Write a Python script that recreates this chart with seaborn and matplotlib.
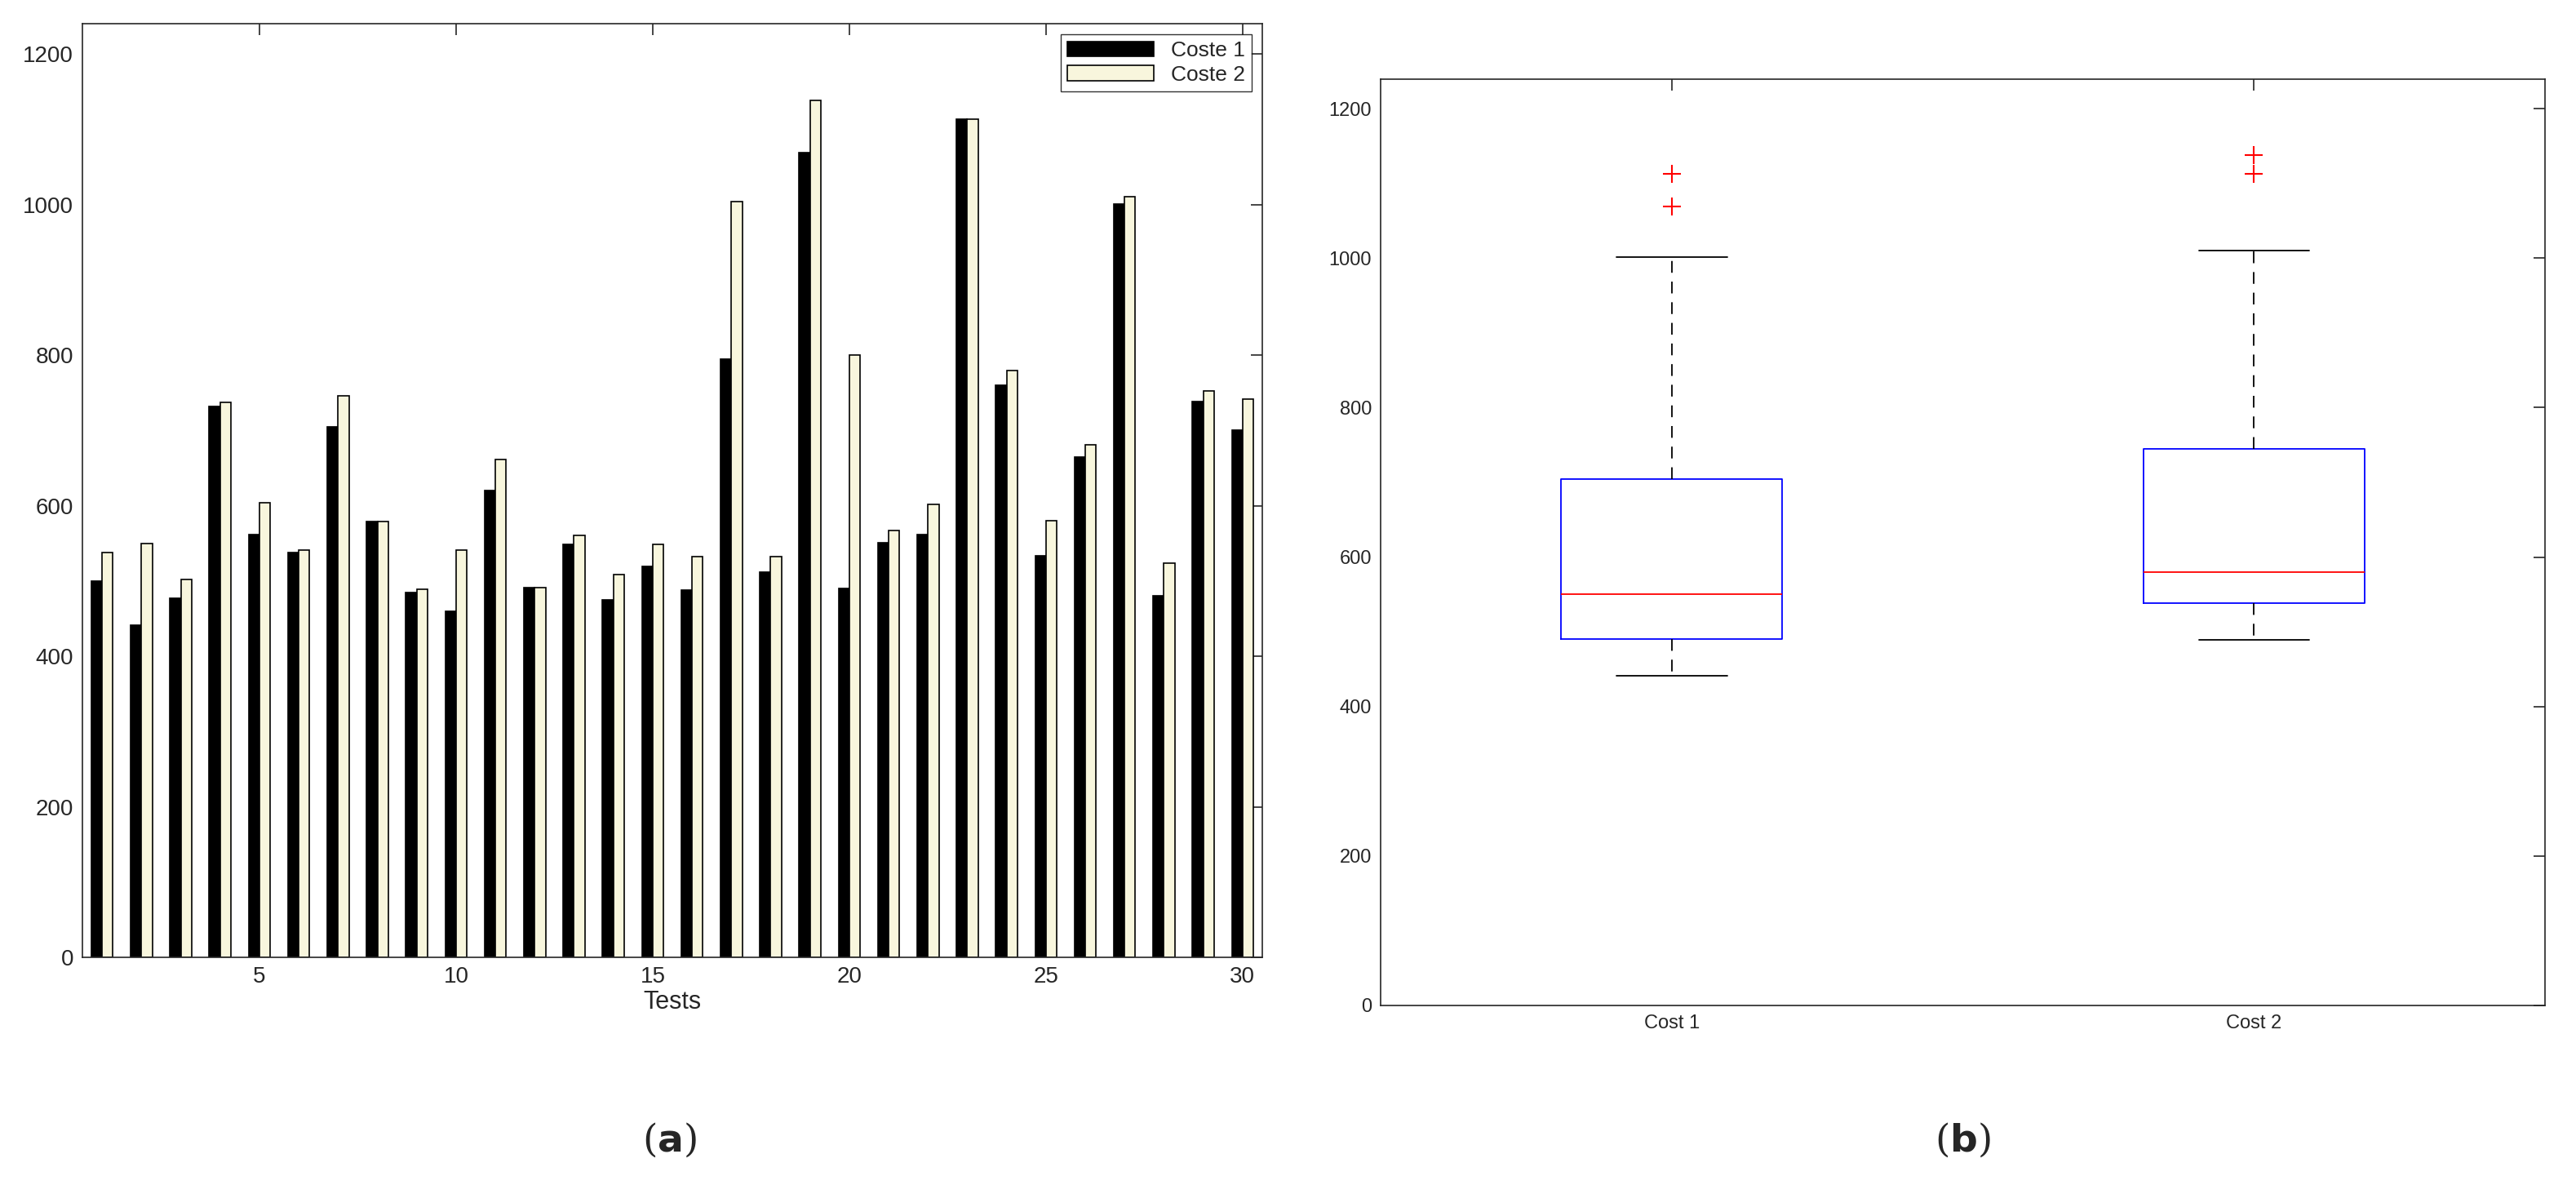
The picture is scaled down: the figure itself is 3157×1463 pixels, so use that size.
import numpy as np
import pandas as pd
import matplotlib
matplotlib.use("Agg")
import matplotlib.pyplot as plt
import seaborn as sns

tests = list(range(1, 31))
coste1 = [500, 441, 477, 732, 562, 538, 705, 579, 485, 460, 620, 491, 549, 475, 520,
          488, 795, 512, 1069, 490, 551, 562, 1113, 760, 534, 665, 1001, 481, 738, 701]
coste2 = [538, 550, 502, 737, 604, 541, 746, 579, 489, 541, 661, 491, 561, 509, 549,
          533, 1004, 533, 1138, 800, 567, 602, 1113, 780, 580, 681, 1010, 524, 753, 742]
series_names = ["Coste 1", "Coste 2"]
box_labels = ["Cost 1", "Cost 2"]

sns.set_theme(style="white")
plt.rcParams['font.family'] = ['Liberation Sans', 'DejaVu Sans']

fig = plt.figure(figsize=(31.57, 14.63), dpi=100)
ax1 = fig.add_axes([0.032, 0.198, 0.458, 0.782])
ax2 = fig.add_axes([0.536, 0.158, 0.452, 0.776])

df = pd.DataFrame({"Test": tests * 2, "Cost": coste1 + coste2,
                   "Serie": [series_names[0]] * 30 + [series_names[1]] * 30})
sns.barplot(data=df, x="Test", y="Cost", hue="Serie", ax=ax1,
            palette=["black", "#FCFAD8"], edgecolor="black", linewidth=1.2,
            width=0.55, gap=0.0, errorbar=None)
ax1.set_xlim(-0.5, 29.5)
ax1.set_ylim(0, 1240)
ax1.set_xticks([4, 9, 14, 19, 24, 29])
ax1.set_xticklabels(["5", "10", "15", "20", "25", "30"])
ax1.set_yticks(range(0, 1201, 200))
ax1.set_xlabel("Tests", fontsize=22, labelpad=2)
ax1.set_ylabel("")
leg = ax1.legend(loc="upper right", fontsize=19, frameon=True, fancybox=False,
                 edgecolor="black", handlelength=4, borderpad=0.3, labelspacing=0.2)
leg.set_title(None)

bdf = pd.DataFrame({"Group": [box_labels[0]] * 30 + [box_labels[1]] * 30,
                    "Cost": coste1 + coste2})
sns.boxplot(data=bdf, x="Group", y="Cost", ax=ax2, fill=False, width=0.38,
            color="blue", linewidth=1.3,
            boxprops=dict(color="blue"),
            medianprops=dict(color="red"),
            whiskerprops=dict(color="black", linestyle=(0, (8, 6))),
            capprops=dict(color="black"),
            flierprops=dict(marker="+", markeredgecolor="red", markersize=16, markeredgewidth=1.5))
ax2.set_xlim(-0.5, 1.5)
ax2.set_ylim(0, 1240)
ax2.set_yticks(range(0, 1201, 200))
ax2.set_xlabel("")
ax2.set_ylabel("")

for ax, fs in [(ax1, 20), (ax2, 17)]:
    for s in ax.spines.values():
        s.set_color("#262626")
        s.set_linewidth(1.2)
    ax.tick_params(axis="both", which="both", direction="in", length=10, width=1.2,
                   top=True, right=True, labelsize=fs, colors="#262626", pad=8)
    for t in ax.get_xticklabels() + ax.get_yticklabels():
        t.set_color("#262626")

fig.text(0.26, 0.045, r"($\mathbf{a}$)", ha="center", va="center", fontsize=34, family="DejaVu Serif")
fig.text(0.762, 0.045, r"($\mathbf{b}$)", ha="center", va="center", fontsize=34, family="DejaVu Serif")

fig.savefig("out.png", dpi=100)
